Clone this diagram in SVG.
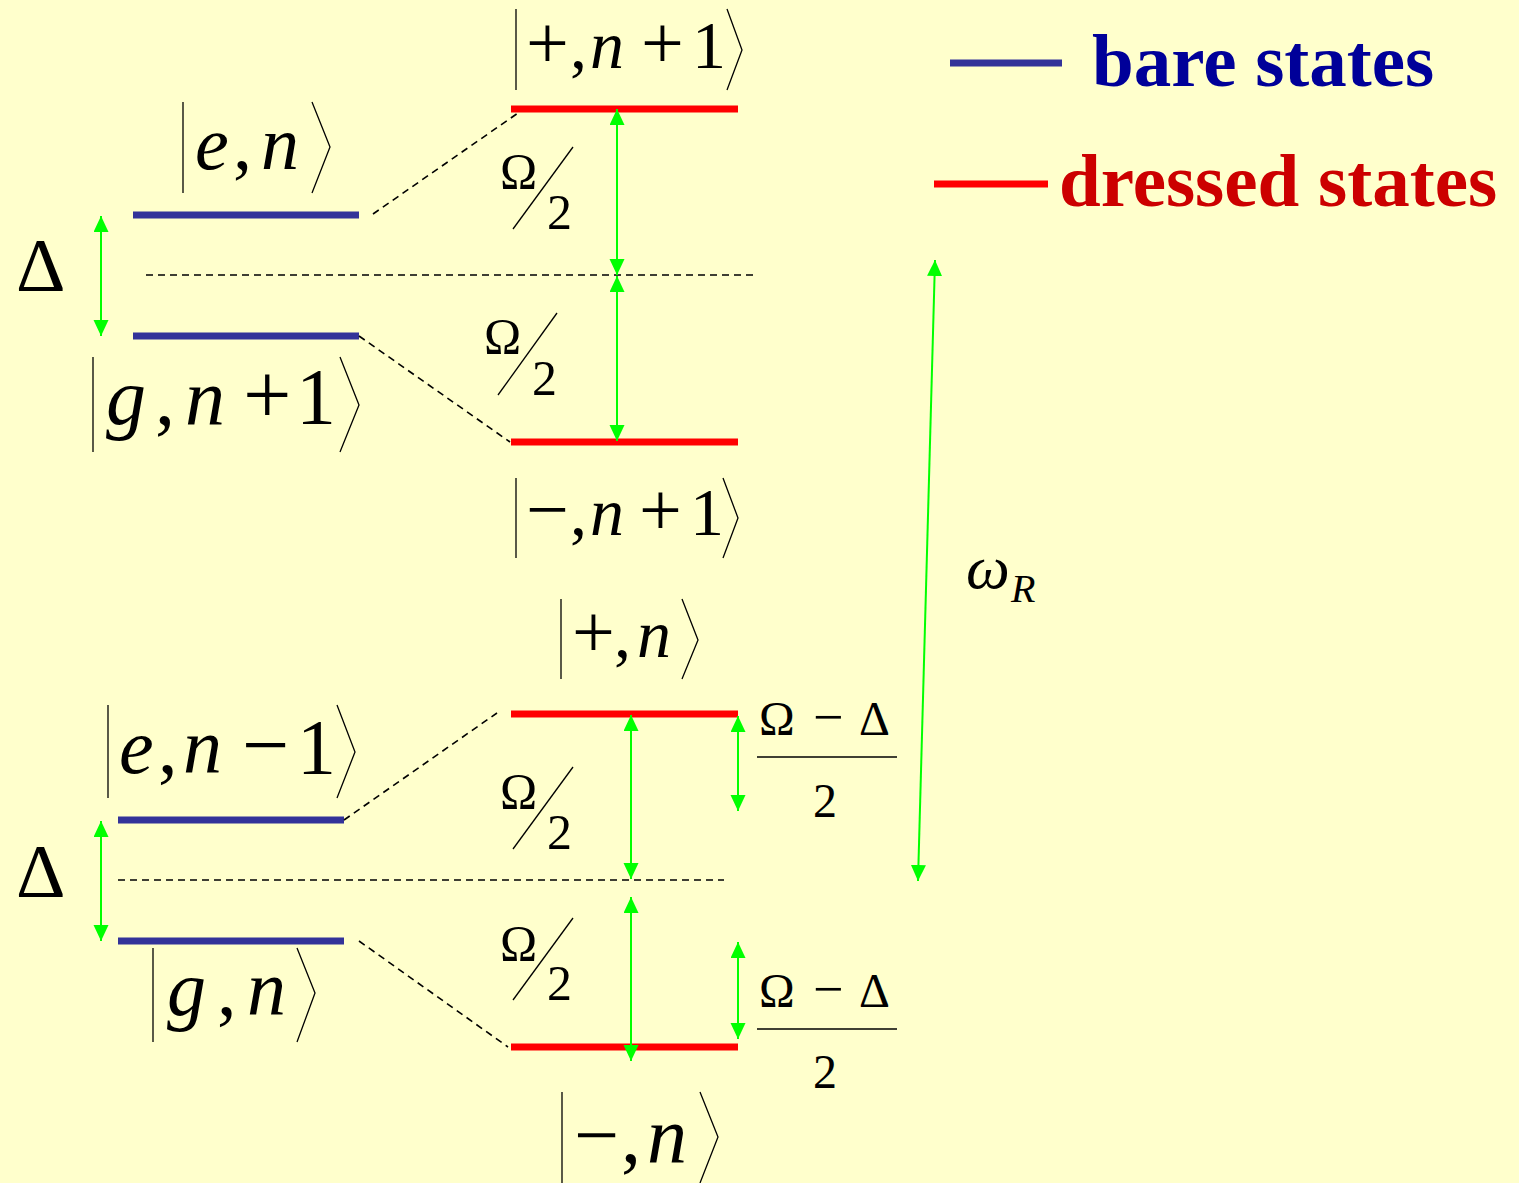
<svg xmlns="http://www.w3.org/2000/svg" width="1519" height="1183" viewBox="0 0 1519 1183">
<style>
.bare{stroke:#333399;stroke-width:7}
.dressed{stroke:#FF0000;stroke-width:7}
.dash{stroke:#000;stroke-width:1.6;stroke-dasharray:7 5;fill:none}
.arr{stroke:#00FF00;stroke-width:2;fill:none;marker-start:url(#ah);marker-end:url(#ah)}
.mt{fill:#000;font-family:"Liberation Serif","DejaVu Serif",serif;font-weight:normal}
.it{font-style:italic}
.dl{stroke:#000;stroke-width:1.3;fill:none}
.fb{stroke:#000;stroke-width:1.5}
.leg{font-family:"Liberation Serif","DejaVu Serif",serif;font-weight:bold;font-size:75px}
</style>
<defs>
<marker id="ah" markerUnits="userSpaceOnUse" markerWidth="16" markerHeight="16" refX="16" refY="7.5" orient="auto-start-reverse">
<path d="M0,0 L16,7.5 L0,15 z" fill="#00FF00"/>
</marker>
</defs>
<rect width="1519" height="1183" fill="#FFFFCC"/>

<g id="legend">
<line x1="950" y1="63" x2="1062" y2="63" class="bare"/>
<text x="1092" y="86" class="leg" fill="#000099">bare states</text>
<line x1="934" y1="184" x2="1048" y2="184" class="dressed"/>
<text x="1059" y="206" class="leg" fill="#CC0000">dressed states</text>
</g>

<g id="e_n">
<line x1="133" y1="215" x2="359" y2="215" class="bare"/>
<line x1="183" y1="102" x2="183" y2="193" class="dl"/>
<polyline points="312,102 330,147 312,193" class="dl"/>
<text class="mt" font-size="76" y="169"><tspan x="195" class="it">e</tspan><tspan x="233">,</tspan><tspan x="261" class="it">n</tspan></text>
</g>

<g id="g_n1">
<line x1="133" y1="336" x2="359" y2="336" class="bare"/>
<line x1="93" y1="357" x2="93" y2="452" class="dl"/>
<polyline points="340,357 359,405 340,452" class="dl"/>
<text class="mt" font-size="80" y="424"><tspan x="106" class="it">g</tspan><tspan x="155">,</tspan><tspan x="185" class="it">n</tspan><tspan x="243" font-size="86">+</tspan><tspan x="296">1</tspan></text>
</g>

<g id="plus_n1">
<line x1="511" y1="109" x2="738" y2="109" class="dressed"/>
<line x1="516" y1="9" x2="516" y2="90" class="dl"/>
<polyline points="727,9 742,50 727,90" class="dl"/>
<text class="mt" font-size="68" y="68"><tspan x="526" font-size="76">+</tspan><tspan x="570">,</tspan><tspan x="590" class="it">n</tspan><tspan x="641" font-size="76">+</tspan><tspan x="692">1</tspan></text>
</g>

<g id="minus_n1">
<line x1="511" y1="442" x2="738" y2="442" class="dressed"/>
<line x1="516" y1="478" x2="516" y2="558" class="dl"/>
<polyline points="723,478 738,518 723,558" class="dl"/>
<text class="mt" font-size="68" y="535"><tspan x="526" font-size="76">−</tspan><tspan x="570">,</tspan><tspan x="590" class="it">n</tspan><tspan x="639" font-size="76">+</tspan><tspan x="690">1</tspan></text>
</g>

<g id="plus_n">
<line x1="511" y1="714" x2="738" y2="714" class="dressed"/>
<line x1="561" y1="599" x2="561" y2="679" class="dl"/>
<polyline points="682,599 698,640 682,679" class="dl"/>
<text class="mt" font-size="68" y="657"><tspan x="572" font-size="76">+</tspan><tspan x="614">,</tspan><tspan x="637" class="it">n</tspan></text>
</g>

<g id="minus_n">
<line x1="511" y1="1047" x2="738" y2="1047" class="dressed"/>
<line x1="562" y1="1092" x2="562" y2="1183" class="dl"/>
<polyline points="700,1092 718,1137 700,1183" class="dl"/>
<text class="mt" font-size="80" y="1162"><tspan x="574">−</tspan><tspan x="621">,</tspan><tspan x="647" class="it">n</tspan></text>
</g>

<g id="e_nm1">
<line x1="118" y1="820" x2="344" y2="820" class="bare"/>
<line x1="108" y1="705" x2="108" y2="798" class="dl"/>
<polyline points="337,705 355,752 337,798" class="dl"/>
<text class="mt" font-size="78" y="773"><tspan x="119" class="it">e</tspan><tspan x="158">,</tspan><tspan x="183" class="it">n</tspan><tspan x="242" font-size="84">−</tspan><tspan x="297">1</tspan></text>
</g>

<g id="g_n">
<line x1="118" y1="941" x2="344" y2="941" class="bare"/>
<line x1="153" y1="948" x2="153" y2="1042" class="dl"/>
<polyline points="297,948 315,993 297,1042" class="dl"/>
<text class="mt" font-size="78" y="1015"><tspan x="167" class="it">g</tspan><tspan x="217">,</tspan><tspan x="247" class="it">n</tspan></text>
</g>

<g id="labels">
<text class="mt" font-size="77" x="16" y="291">Δ</text>
<text class="mt" font-size="77" x="16" y="897">Δ</text>

<text class="mt" font-size="50" x="500" y="188">Ω</text>
<line x1="573" y1="147" x2="513" y2="229" class="dl"/>
<text class="mt" font-size="50" x="547" y="229">2</text>

<text class="mt" font-size="50" x="484" y="353">Ω</text>
<line x1="557" y1="313" x2="498" y2="395" class="dl"/>
<text class="mt" font-size="50" x="532" y="395">2</text>

<text class="mt" font-size="50" x="500" y="808">Ω</text>
<line x1="573" y1="767" x2="513" y2="849" class="dl"/>
<text class="mt" font-size="50" x="547" y="849">2</text>

<text class="mt" font-size="50" x="500" y="960">Ω</text>
<line x1="573" y1="918" x2="513" y2="1000" class="dl"/>
<text class="mt" font-size="50" x="547" y="1000">2</text>

<text class="mt" font-size="48" y="735"><tspan x="759">Ω</tspan><tspan x="813" font-size="54">−</tspan><tspan x="859">Δ</tspan></text>
<line x1="757" y1="757" x2="897" y2="757" class="fb"/>
<text class="mt" font-size="48" x="813" y="817">2</text>

<text class="mt" font-size="48" y="1007"><tspan x="759">Ω</tspan><tspan x="813" font-size="54">−</tspan><tspan x="859">Δ</tspan></text>
<line x1="757" y1="1029" x2="897" y2="1029" class="fb"/>
<text class="mt" font-size="48" x="813" y="1088">2</text>

<text class="mt" y="588"><tspan x="966" font-size="62" class="it">ω</tspan><tspan x="1011" y="602" font-size="40" class="it">R</tspan></text>
</g>

<g id="connectors">
<line x1="146" y1="275" x2="754" y2="275" class="dash"/>
<line x1="118" y1="880" x2="724" y2="880" class="dash"/>
<line x1="373" y1="214" x2="518" y2="113" class="dash"/>
<line x1="359" y1="336" x2="510" y2="442" class="dash"/>
<line x1="344" y1="820" x2="497" y2="713" class="dash"/>
<line x1="359" y1="941" x2="508" y2="1047" class="dash"/>

<line x1="101" y1="216" x2="101" y2="336" class="arr"/>
<line x1="101" y1="821" x2="101" y2="941" class="arr"/>
<line x1="617" y1="109" x2="617" y2="275" class="arr"/>
<line x1="617" y1="276" x2="617" y2="441" class="arr"/>
<line x1="631" y1="715" x2="631" y2="879" class="arr"/>
<line x1="631" y1="897" x2="631" y2="1061" class="arr"/>
<line x1="738" y1="716" x2="738" y2="811" class="arr"/>
<line x1="738" y1="942" x2="738" y2="1039" class="arr"/>
<line x1="935" y1="260" x2="918" y2="881" class="arr"/>
</g>
</svg>
